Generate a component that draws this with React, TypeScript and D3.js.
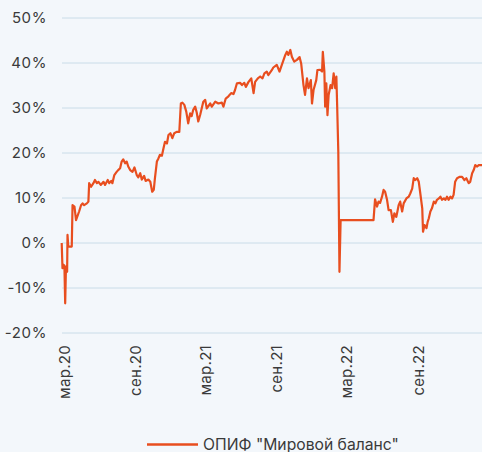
import React, { useEffect, useRef } from "react";
import * as d3 from "d3";

// fund return, %
const dates = [
  "2020-02-22", "2020-02-24", "2020-02-26", "2020-02-29", "2020-03-02", "2020-03-04", "2020-03-07", "2020-03-08",
  "2020-03-10", "2020-03-19", "2020-03-21", "2020-03-26", "2020-03-30", "2020-04-02", "2020-04-07", "2020-04-12",
  "2020-04-16", "2020-04-20", "2020-04-27", "2020-05-01", "2020-05-03", "2020-05-08", "2020-05-14", "2020-05-18",
  "2020-05-23", "2020-05-27", "2020-06-02", "2020-06-09", "2020-06-13", "2020-06-20", "2020-06-24", "2020-06-29",
  "2020-07-02", "2020-07-07", "2020-07-13", "2020-07-17", "2020-07-22", "2020-07-26", "2020-07-30", "2020-08-04",
  "2020-08-08", "2020-08-12", "2020-08-17", "2020-08-23", "2020-08-28", "2020-09-03", "2020-09-07", "2020-09-12",
  "2020-09-16", "2020-09-22", "2020-09-26", "2020-10-03", "2020-10-08", "2020-10-13", "2020-10-17", "2020-10-20",
  "2020-10-25", "2020-10-29", "2020-11-02", "2020-11-07", "2020-11-11", "2020-11-15", "2020-11-20", "2020-11-24",
  "2020-11-29", "2020-12-04", "2020-12-09", "2020-12-15", "2020-12-22", "2020-12-26", "2020-12-30", "2021-01-04",
  "2021-01-09", "2021-01-14", "2021-01-19", "2021-01-23", "2021-01-27", "2021-02-01", "2021-02-05", "2021-02-09",
  "2021-02-14", "2021-02-22", "2021-02-27", "2021-03-03", "2021-03-12", "2021-03-16", "2021-03-25", "2021-04-02",
  "2021-04-11", "2021-04-15", "2021-04-21", "2021-04-28", "2021-05-05", "2021-05-11", "2021-05-15", "2021-05-20",
  "2021-05-28", "2021-06-02", "2021-06-08", "2021-06-12", "2021-06-19", "2021-06-26", "2021-07-02", "2021-07-06",
  "2021-07-13", "2021-07-19", "2021-07-25", "2021-07-30", "2021-08-05", "2021-08-09", "2021-08-18", "2021-08-22",
  "2021-08-31", "2021-09-07", "2021-09-13", "2021-09-22", "2021-09-26", "2021-09-30", "2021-10-05", "2021-10-09",
  "2021-10-15", "2021-10-22", "2021-10-29", "2021-11-02", "2021-11-08", "2021-11-12", "2021-11-17", "2021-11-21",
  "2021-11-27", "2021-11-30", "2021-12-04", "2021-12-11", "2021-12-14", "2021-12-21", "2021-12-26", "2021-12-28",
  "2022-01-01", "2022-01-03", "2022-01-06", "2022-01-09", "2022-01-12", "2022-01-17", "2022-01-21", "2022-01-25",
  "2022-01-29", "2022-02-01", "2022-02-03", "2022-02-06", "2022-02-09", "2022-02-12", "2022-05-08", "2022-05-12",
  "2022-05-17", "2022-05-21", "2022-05-25", "2022-05-30", "2022-06-03", "2022-06-07", "2022-06-12", "2022-06-16",
  "2022-06-22", "2022-06-27", "2022-07-01", "2022-07-06", "2022-07-12", "2022-07-16", "2022-07-21", "2022-07-25",
  "2022-08-01", "2022-08-07", "2022-08-11", "2022-08-16", "2022-08-20", "2022-08-24", "2022-08-29", "2022-09-02",
  "2022-09-06", "2022-09-11", "2022-09-13", "2022-09-17", "2022-09-22", "2022-09-25", "2022-09-28", "2022-10-02",
  "2022-10-06", "2022-10-11", "2022-10-15", "2022-10-19", "2022-10-24", "2022-10-28", "2022-11-01", "2022-11-06",
  "2022-11-10", "2022-11-14", "2022-11-18", "2022-11-23", "2022-11-27", "2022-12-01", "2022-12-05", "2022-12-10",
  "2022-12-17", "2022-12-23", "2022-12-29", "2023-01-03", "2023-01-09", "2023-01-13", "2023-01-18", "2023-01-22",
  "2023-01-26", "2023-01-31", "2023-02-04", "2023-02-13", "2023-02-24",
];

const values = [
  0.0, -5.6, -4.8, -5.0, -13.4, -5.3, -6.4, 1.8,
  -0.8, -0.8, 8.4, 8.1, 5.1, 5.8, 7.0, 8.4,
  8.8, 8.4, 8.8, 9.2, 13.3, 12.5, 13.3, 14.0,
  13.3, 13.6, 12.9, 13.6, 12.9, 14.0, 13.3, 13.8,
  13.3, 15.1, 15.8, 16.2, 16.6, 18.1, 18.6, 17.7,
  18.1, 17.0, 16.2, 15.8, 16.8, 15.1, 14.6, 15.5,
  14.1, 14.9, 13.8, 14.1, 13.6, 11.4, 11.8, 14.4,
  18.1, 18.8, 19.6, 19.4, 21.0, 22.5, 22.1, 24.0,
  24.4, 23.3, 24.4, 24.7, 24.7, 31.0, 31.2, 30.7,
  29.2, 26.6, 28.8, 28.2, 29.6, 30.3, 29.0, 27.0,
  28.5, 31.4, 31.8, 29.9, 31.0, 30.3, 31.4, 31.0,
  31.2, 30.3, 32.1, 32.6, 33.3, 33.1, 34.0, 35.5,
  35.6, 35.1, 35.6, 34.7, 35.8, 36.6, 33.3, 35.8,
  36.6, 37.0, 36.6, 37.7, 38.1, 37.3, 38.4, 39.0,
  39.6, 38.1, 39.6, 41.8, 42.5, 41.8, 42.9, 41.4,
  40.3, 40.7, 41.3, 39.9, 35.1, 32.9, 36.6, 34.4,
  36.2, 31.0, 34.0, 36.2, 38.4, 38.5, 38.1, 42.5,
  38.1, 30.3, 35.5, 28.4, 32.9, 35.1, 34.4, 37.7,
  34.4, 37.0, 30.7, 20.3, -6.4, 5.1, 5.1, 9.7,
  8.1, 9.2, 8.9, 10.3, 11.8, 11.4, 9.6, 7.3,
  7.3, 4.7, 6.6, 5.8, 8.4, 9.2, 7.0, 8.8,
  9.9, 10.3, 11.0, 12.1, 14.4, 14.0, 14.4, 13.6,
  11.0, 7.7, 2.5, 4.0, 3.3, 4.7, 5.5, 7.0,
  7.7, 9.2, 8.8, 9.6, 9.9, 10.3, 9.6, 9.9,
  9.6, 10.3, 9.6, 10.3, 9.9, 10.7, 13.6, 14.4,
  14.7, 14.7, 14.0, 14.4, 13.3, 13.6, 15.5, 16.2,
  17.3, 17.0, 17.3, 17.3, 17.5,
];

const yTicks = [50, 40, 30, 20, 10, 0, -10, -20];
const xTicks = ["2020-03-01", "2020-09-01", "2021-03-01", "2021-09-01", "2022-03-01", "2022-09-01", "2023-03-01"];
const monthNames = ["янв", "фев", "мар", "апр", "май", "июн", "июл", "авг", "сен", "окт", "ноя", "дек"];
const seriesName = 'ОПИФ "Мировой баланс"';

const W = 482;
const H = 452;
const LINE = "#e84e1f";

const App = () => {
  const svgRef = useRef<SVGSVGElement>(null);

  useEffect(() => {
    const svg = d3.select(svgRef.current);
    svg.selectAll("*").remove();

    const parse = d3.timeParse("%Y-%m-%d");
    const data = dates.map((d, i) => ({ date: parse(d) as Date, value: values[i] }));

    const x = d3
      .scaleTime()
      .domain([parse("2020-03-01") as Date, parse("2023-03-01") as Date])
      .range([64.8, 488.4]);

    const y = d3.scaleLinear().domain([-20, 50]).range([333, 18]);

    svg.append("rect").attr("width", W).attr("height", H).attr("fill", "#f3f7fb");

    // grid + y labels
    const grid = svg.append("g");
    grid
      .selectAll("line")
      .data(yTicks)
      .enter()
      .append("line")
      .attr("x1", 62)
      .attr("x2", W)
      .attr("y1", (d) => y(d))
      .attr("y2", (d) => y(d))
      .attr("stroke", "#c9dce8")
      .attr("stroke-width", 1);

    grid
      .selectAll("text")
      .data(yTicks)
      .enter()
      .append("text")
      .attr("x", 47)
      .attr("y", (d) => y(d))
      .attr("dy", "0.35em")
      .attr("text-anchor", "end")
      .attr("font-size", 15)
      .attr("letter-spacing", 0.6)
      .attr("fill", "#3a3a3a")
      .text((d) => `${d}%`);

    // x labels
    const fmt = (s: string) => {
      const d = parse(s) as Date;
      return `${monthNames[d.getMonth()]}.${String(d.getFullYear()).slice(2)}`;
    };
    svg
      .append("g")
      .selectAll("text")
      .data(xTicks)
      .enter()
      .append("text")
      .attr("transform", (d) => `translate(${x(parse(d) as Date)},345) rotate(-90)`)
      .attr("dy", "0.35em")
      .attr("text-anchor", "end")
      .attr("font-size", 15)
      .attr("letter-spacing", 0.3)
      .attr("fill", "#3a3a3a")
      .text((d) => fmt(d));

    // line
    const line = d3
      .line<{ date: Date; value: number }>()
      .x((d) => x(d.date))
      .y((d) => y(d.value));

    svg
      .append("path")
      .datum(data)
      .attr("d", line)
      .attr("fill", "none")
      .attr("stroke", LINE)
      .attr("stroke-width", 2.2)
      .attr("stroke-linejoin", "round");

    // legend
    const lg = svg.append("g").attr("transform", "translate(147,444.5)");
    lg.append("line").attr("x1", 0).attr("x2", 51).attr("stroke", LINE).attr("stroke-width", 2.5);
    lg.append("text")
      .attr("x", 56)
      .attr("dy", "0.35em")
      .attr("font-size", 15.7)
      .attr("fill", "#3a3a3a")
      .text(seriesName);

    return () => {
      svg.selectAll("*").remove();
    };
  }, []);

  return (
    <svg
      ref={svgRef}
      width={W}
      height={H}
      style={{ position: "absolute", left: 0, top: 0, fontFamily: "Inter, sans-serif" }}
    />
  );
};

export default App;
